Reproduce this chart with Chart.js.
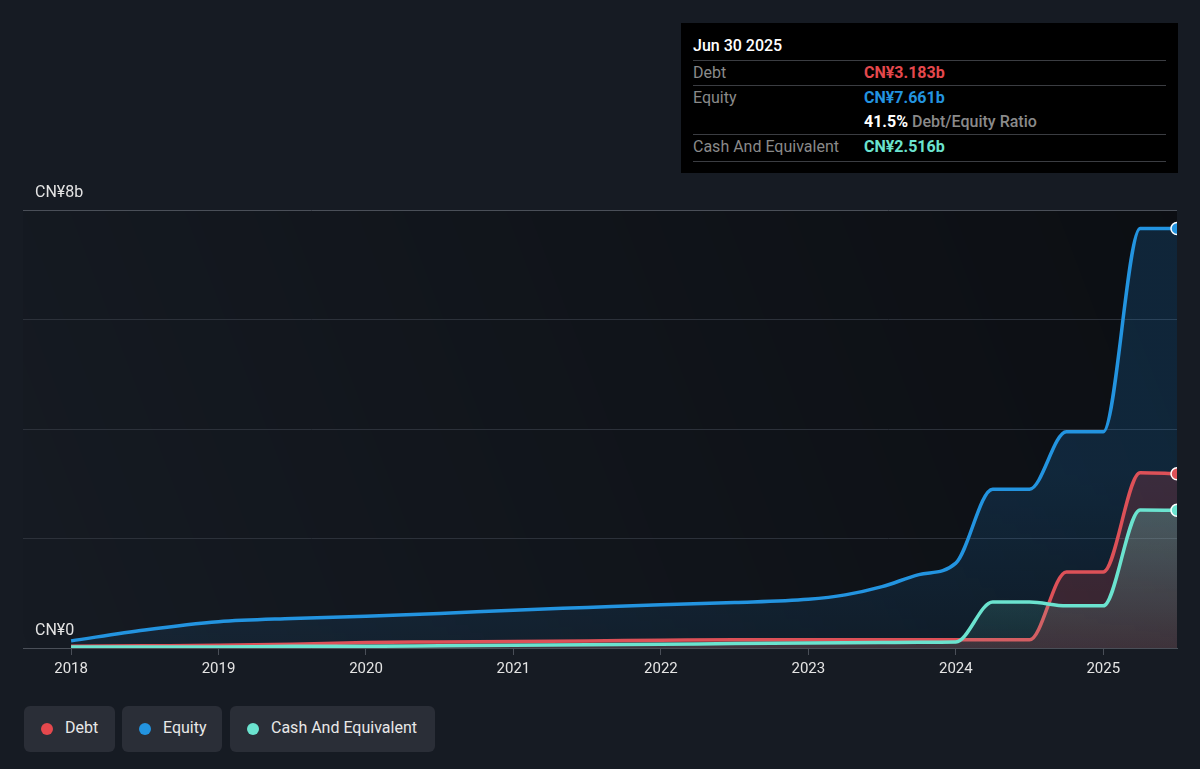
<!DOCTYPE html>
<html>
<head>
<meta charset="utf-8">
<script src="https://cdn.jsdelivr.net/npm/chart.js@4.4.1/dist/chart.umd.min.js"></script>
<style>
  html, body { margin: 0; padding: 0; background: #161b23; }
  body { width: 1200px; height: 769px; position: relative; overflow: hidden; font-family: Roboto, "Noto Sans", sans-serif; }
  #wrap { position: absolute; left: 0; top: 0; width: 1200px; height: 769px; }
  #tip { position: absolute; left: 681px; top: 23px; width: 497px; height: 150px; background: #000; }
  .t { position: absolute; font-size: 16px; line-height: 18px; white-space: nowrap; }
  .sep { position: absolute; left: 12px; width: 473px; height: 1px; background: #3b3d42; }
  .legend { position: absolute; top: 706px; height: 46px; background: #2a2e37; border-radius: 6px; color: #e8e8e8; font-size: 16px; }
  .legend .dot { position: absolute; left: 17px; top: 17px; width: 12px; height: 12px; border-radius: 50%; }
  .legend span { position: absolute; left: 41px; top: 12px; line-height: 20px; white-space: nowrap; }
</style>
</head>
<body>
<div id="wrap"><canvas id="c" width="1200" height="769"></canvas></div>

<div id="tip">
  <div class="t" style="left:12px;top:14px;color:#fff;font-weight:500;">Jun 30 2025</div>
  <div class="sep" style="top:37px;"></div>
  <div class="t" style="left:12px;top:41px;color:#8a8a8a;">Debt</div>
  <div class="t" style="left:183px;top:41px;color:#e5484d;font-weight:700;">CN¥3.183b</div>
  <div class="sep" style="top:62px;"></div>
  <div class="t" style="left:12px;top:66px;color:#8a8a8a;">Equity</div>
  <div class="t" style="left:183px;top:66px;color:#2394e0;font-weight:700;">CN¥7.661b</div>
  <div class="t" style="left:183px;top:90px;color:#fff;"><b>41.5%</b> <span style="color:#8a8a8a;font-weight:500;">Debt/Equity Ratio</span></div>
  <div class="sep" style="top:111px;"></div>
  <div class="t" style="left:12px;top:115px;color:#8a8a8a;">Cash And Equivalent</div>
  <div class="t" style="left:183px;top:115px;color:#6be3cf;font-weight:700;">CN¥2.516b</div>
  <div class="sep" style="top:138px;"></div>
</div>

<div class="legend" style="left:24px;width:91px;"><div class="dot" style="background:#e5484d;"></div><span>Debt</span></div>
<div class="legend" style="left:122px;width:100px;"><div class="dot" style="background:#2394e0;"></div><span>Equity</span></div>
<div class="legend" style="left:230px;width:205px;"><div class="dot" style="background:#6be3cf;"></div><span>Cash And Equivalent</span></div>

<script>
// ---- data (decimal years) ----
const dates  = [2018.0, 2018.5, 2019.0, 2019.5, 2020.0, 2020.5, 2021.0, 2021.5, 2022.0, 2022.5, 2023.0, 2023.25, 2023.5, 2023.75, 2024.0, 2024.25, 2024.5, 2024.75, 2025.0, 2025.25, 2025.5];
const debt   = [0.03, 0.04, 0.05, 0.07, 0.10, 0.11, 0.12, 0.13, 0.14, 0.15, 0.15, 0.15, 0.15, 0.15, 0.15, 0.15, 0.15, 1.39, 1.39, 3.20, 3.183];
const equity = [0.13, 0.33, 0.48, 0.54, 0.58, 0.63, 0.69, 0.74, 0.79, 0.83, 0.89, 0.97, 1.12, 1.34, 1.55, 2.90, 2.90, 3.95, 3.95, 7.66, 7.661];
const cash   = [0.02, 0.02, 0.02, 0.03, 0.03, 0.04, 0.05, 0.06, 0.07, 0.08, 0.09, 0.095, 0.10, 0.105, 0.11, 0.84, 0.84, 0.77, 0.77, 2.52, 2.516];
const yearTicks = [2018, 2019, 2020, 2021, 2022, 2023, 2024, 2025];
const yTicks = [0, 2, 4, 6, 8];
const yTickLabels = [{ v: 0, text: 'CN¥0' }, { v: 8, text: 'CN¥8b' }];

const COL = { debt: '#dd5158', equity: '#2394e0', cash: '#6be3cf' };

function pts(arr) { return dates.map((d, i) => ({ x: d, y: arr[i] })); }
function lastOnly(n, r) { return dates.map((_, i) => i === n - 1 ? r : 0); }

const bgPlugin = {
  id: 'plotBg',
  beforeDraw(chart) {
    const { ctx, chartArea: a } = chart;
    const g = ctx.createLinearGradient(a.left, a.bottom, a.right, a.top);
    g.addColorStop(0, 'rgba(0,0,0,0)');
    g.addColorStop(1, 'rgba(0,0,0,0.45)');
    ctx.save();
    ctx.fillStyle = g;
    ctx.fillRect(a.left, a.top, a.right - a.left, a.bottom - a.top);
    ctx.restore();
  }
};

// y-axis labels drawn inside the plot, above their grid lines, placed by the y scale
const yLabelPlugin = {
  id: 'yLabels',
  afterDraw(chart) {
    const { ctx, chartArea: a, scales } = chart;
    ctx.save();
    ctx.fillStyle = '#e4e4e4';
    ctx.font = '16px Roboto, "Noto Sans", sans-serif';
    ctx.textAlign = 'left';
    ctx.textBaseline = 'middle';
    yTickLabels.forEach(l => {
      ctx.fillText(l.text, a.left + 12, scales.y.getPixelForValue(l.v) - 17);
    });
    ctx.restore();
  }
};

function vGrad(ctxArg, top, bottom) {
  const chart = ctxArg.chart;
  const a = chart.chartArea;
  if (!a) return bottom;
  const g = chart.ctx.createLinearGradient(0, a.top + a.height * 0.6, 0, a.bottom);
  g.addColorStop(0, top);
  g.addColorStop(1, bottom);
  return g;
}

new Chart(document.getElementById('c'), {
  type: 'line',
  data: {
    datasets: [
      {
        label: 'Debt', data: pts(debt), order: 2,
        borderColor: COL.debt, borderWidth: 3.5,
        backgroundColor: 'rgba(229,72,77,0.20)', fill: 'origin',
        pointRadius: lastOnly(dates.length, 6), pointBackgroundColor: COL.debt,
        pointBorderColor: '#ffffff', pointBorderWidth: 1.5, pointHoverRadius: 0,
        cubicInterpolationMode: 'monotone', clip: 0
      },
      {
        label: 'Equity', data: pts(equity), order: 3,
        borderColor: COL.equity, borderWidth: 3.5,
        backgroundColor: (c) => vGrad(c, 'rgba(33,150,243,0.17)', 'rgba(33,150,243,0.08)'), fill: 'origin',
        pointRadius: lastOnly(dates.length, 6), pointBackgroundColor: COL.equity,
        pointBorderColor: '#ffffff', pointBorderWidth: 1.5, pointHoverRadius: 0,
        cubicInterpolationMode: 'monotone', clip: 0
      },
      {
        label: 'Cash And Equivalent', data: pts(cash), order: 1,
        borderColor: COL.cash, borderWidth: 3.5,
        backgroundColor: (c) => vGrad(c, 'rgba(110,230,207,0.30)', 'rgba(110,230,207,0.08)'), fill: 'origin',
        pointRadius: lastOnly(dates.length, 6), pointBackgroundColor: COL.cash,
        pointBorderColor: '#ffffff', pointBorderWidth: 1.5, pointHoverRadius: 0,
        cubicInterpolationMode: 'monotone', clip: 0
      }
    ]
  },
  options: {
    responsive: false,
    animation: false,
    events: [],
    layout: { padding: { left: 23, right: 23, top: 210, bottom: 86 } },
    plugins: { legend: { display: false }, tooltip: { enabled: false } },
    scales: {
      x: {
        type: 'linear', min: 2017.674, max: 2025.5,
        afterBuildTicks: (s) => { s.ticks = yearTicks.map(v => ({ value: v })); },
        grid: { drawOnChartArea: false, drawTicks: true, tickLength: 7, color: '#4a4f58' },
        border: { display: true, color: '#4a4f58', width: 1 },
        ticks: { color: '#e4e4e4', font: { family: 'Roboto', size: 15 }, padding: 5, maxRotation: 0, autoSkip: false,
                 callback: (v) => String(v) }
      },
      y: {
        min: 0, max: 8,
        afterBuildTicks: (s) => { s.ticks = yTicks.map(v => ({ value: v })); },
        grid: { color: (c) => c.tick && (c.tick.value === 8 || c.tick.value === 0) ? '#4a4f58' : '#2c313a', drawTicks: false, lineWidth: 1 },
        border: { display: false },
        ticks: { display: false }
      }
    }
  },
  plugins: [bgPlugin, yLabelPlugin]
});
</script>
</body>
</html>
